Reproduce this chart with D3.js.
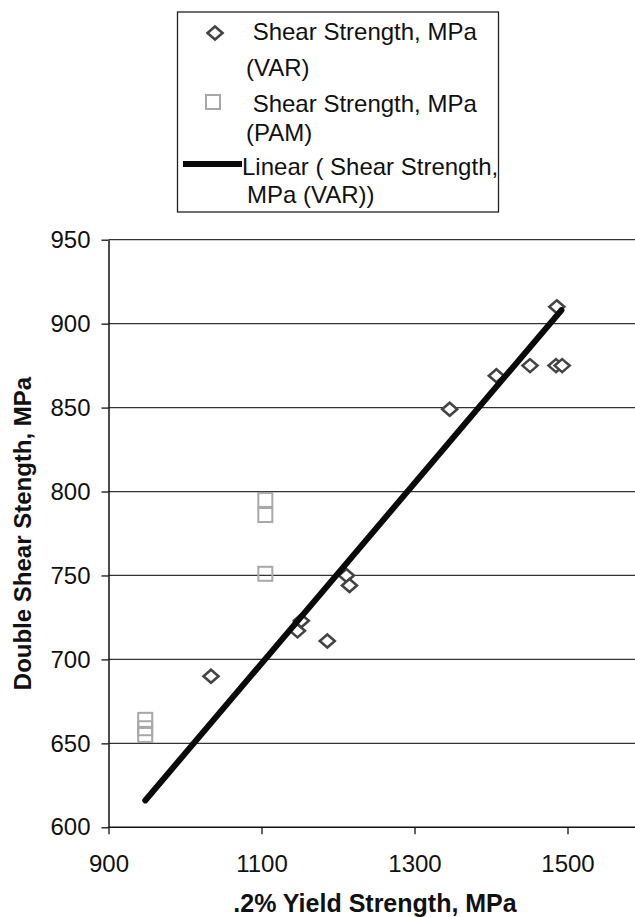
<!DOCTYPE html>
<html>
<head>
<meta charset="utf-8">
<script src="https://cdn.jsdelivr.net/npm/d3@7"></script>
<style>
  body { margin: 0; background: #fff; }
  svg { display: block; font-family: "Liberation Sans", Arial, sans-serif; }
</style>
</head>
<body>
<svg id="chart" width="635" height="917"></svg>
<script>
// data
const varYield = [1034, 1147, 1152, 1186, 1211, 1215, 1346, 1407, 1451, 1486, 1485, 1493];
const varShear = [690, 717, 723, 711, 750, 744, 849, 869, 875, 910, 875, 875];
const pamYield = [948, 948, 948, 1105, 1105, 1105];
const pamShear = [664, 659, 655, 795, 786, 751];
const trendYield = [948, 1492];
const trendShear = [616, 908];
const xTicks = [900, 1100, 1300, 1500];
const yTicks = [600, 650, 700, 750, 800, 850, 900, 950];

const svg = d3.select("#chart");
const width = 635;

let x = d3.scaleLinear().domain([900, 1700]).range([108.5, 720.5]);
let y = d3.scaleLinear().domain([600, 950]).range([827.3, 239.7]);

// horizontal gridlines
svg.append("g")
  .selectAll("line")
  .data(yTicks.filter(d => d > 600))
  .join("line")
  .attr("x1", x(900))
  .attr("x2", width)
  .attr("y1", d => y(d))
  .attr("y2", d => y(d))
  .attr("stroke", "#333")
  .attr("stroke-width", 1.2);

// axes
let xAxis = svg.append("g")
  .attr("transform", `translate(0,${y(600)})`)
  .call(d3.axisBottom(x).tickValues(xTicks).tickFormat(d3.format("d")).tickSize(7).tickSizeOuter(0));
xAxis.select(".domain").remove();
xAxis.append("line")
  .attr("x1", x(900)).attr("x2", width)
  .attr("stroke", "#111").attr("stroke-width", 1.5);
xAxis.selectAll(".tick line").attr("stroke", "#111").attr("stroke-width", 1.3);
xAxis.selectAll(".tick text")
  .attr("y", 0).attr("dy", 0)
  .attr("transform", "translate(0,45)")
  .style("font-size", "24px")
  .style("font-family", "Liberation Sans, Arial, sans-serif")
  .attr("fill", "#111");

let yAxis = svg.append("g")
  .attr("transform", `translate(${x(900)},0)`)
  .call(d3.axisLeft(y).tickValues(yTicks).tickSize(7).tickSizeOuter(0));
yAxis.select(".domain").attr("stroke", "#111").attr("stroke-width", 1.5);
yAxis.selectAll(".tick line").attr("stroke", "#111").attr("stroke-width", 1.3);
yAxis.selectAll(".tick text")
  .attr("x", -18)
  .style("font-size", "24px")
  .style("font-family", "Liberation Sans, Arial, sans-serif")
  .attr("fill", "#111");

// axis titles
svg.append("text")
  .attr("x", 375)
  .attr("y", 912)
  .attr("text-anchor", "middle")
  .style("font-size", "25px")
  .style("font-weight", "bold")
  .attr("fill", "#111")
  .text(".2% Yield Strength, MPa");

svg.append("text")
  .attr("transform", `translate(31,${(y(600) + y(950)) / 2}) rotate(-90)`)
  .attr("text-anchor", "middle")
  .style("font-size", "24px")
  .style("font-weight", "bold")
  .attr("fill", "#111")
  .text("Double Shear Stength, MPa");

const diamond = "M0,-6.5L7.5,0L0,6.5L-7.5,0Z";

// PAM squares
svg.append("g")
  .selectAll("rect")
  .data(pamYield.map((d, i) => [d, pamShear[i]]))
  .join("rect")
  .attr("x", d => x(d[0]) - 7)
  .attr("y", d => y(d[1]) - 7)
  .attr("width", 14)
  .attr("height", 14)
  .attr("fill", "none")
  .attr("stroke", "#a8a8a8")
  .attr("stroke-width", 2);

// VAR diamonds
svg.append("g")
  .selectAll("path")
  .data(varYield.map((d, i) => [d, varShear[i]]))
  .join("path")
  .attr("d", diamond)
  .attr("transform", d => `translate(${x(d[0])},${y(d[1])})`)
  .attr("fill", "#fff")
  .attr("stroke", "#444")
  .attr("stroke-width", 2.6);

// linear trend line
let trendLine = d3.line()
  .x(d => x(d[0]))
  .y(d => y(d[1]));
svg.append("path")
  .datum(trendYield.map((d, i) => [d, trendShear[i]]))
  .attr("d", trendLine)
  .attr("fill", "none")
  .attr("stroke", "#0a0a0a")
  .attr("stroke-width", 6)
  .attr("stroke-linecap", "round");

// legend
let legend = svg.append("g");
legend.append("rect")
  .attr("x", 177.5).attr("y", 12)
  .attr("width", 321).attr("height", 200)
  .attr("fill", "#fff")
  .attr("stroke", "#222")
  .attr("stroke-width", 1.3);

legend.append("path")
  .attr("d", diamond)
  .attr("transform", "translate(215,33)")
  .attr("fill", "#fff")
  .attr("stroke", "#444")
  .attr("stroke-width", 2.6);
legend.append("rect")
  .attr("x", 206).attr("y", 95)
  .attr("width", 14).attr("height", 14)
  .attr("fill", "none")
  .attr("stroke", "#a8a8a8")
  .attr("stroke-width", 2);
legend.append("line")
  .attr("x1", 183).attr("x2", 242)
  .attr("y1", 164).attr("y2", 164)
  .attr("stroke", "#0a0a0a")
  .attr("stroke-width", 6);

const legendLines = [
  [" Shear Strength, MPa", 246, 40],
  ["(VAR)", 246, 76],
  [" Shear Strength, MPa", 246, 112],
  ["(PAM)", 246, 141],
  ["Linear ( Shear Strength,", 242, 175],
  ["MPa (VAR))", 247, 203]
];
legend.selectAll("text.lg")
  .data(legendLines)
  .join("text")
  .attr("class", "lg")
  .attr("x", d => d[1])
  .attr("y", d => d[2])
  .style("font-size", "24px")
  .style("white-space", "pre")
  .attr("fill", "#111")
  .text(d => d[0]);
</script>
</body>
</html>
